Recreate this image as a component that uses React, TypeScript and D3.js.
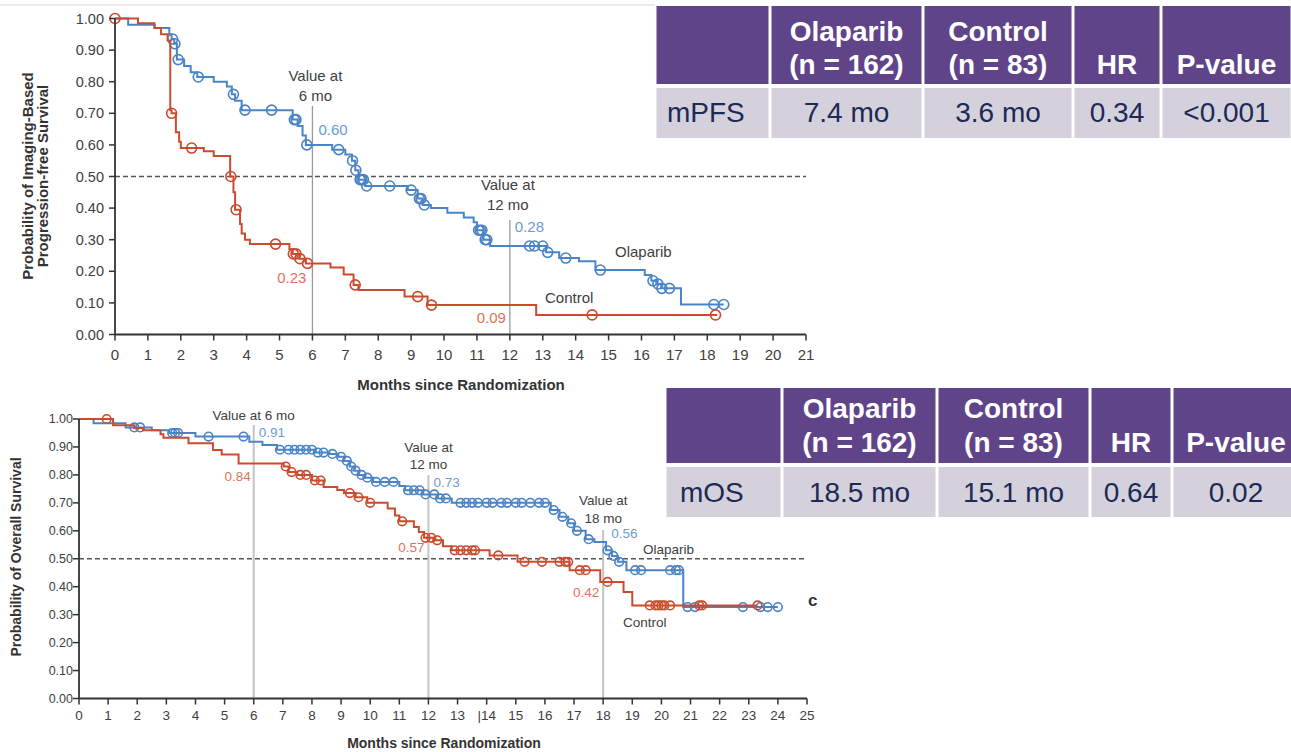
import React from "react";
import * as d3 from "d3";

// ---------------- DATA ----------------
const pfsXTicks = [0, 1, 2, 3, 4, 5, 6, 7, 8, 9, 10, 11, 12, 13, 14, 15, 16, 17, 18, 19, 20, 21];
const pfsXTickLabels = ["0", "1", "2", "3", "4", "5", "6", "7", "8", "9", "10", "11", "12", "13", "14", "15", "16", "17", "18", "19", "20", "21"];
const yTicks = [0, 0.1, 0.2, 0.3, 0.4, 0.5, 0.6, 0.7, 0.8, 0.9, 1.0];
const yTickLabels = ["0.00", "0.10", "0.20", "0.30", "0.40", "0.50", "0.60", "0.70", "0.80", "0.90", "1.00"];
const osXTicks = [0, 1, 2, 3, 4, 5, 6, 7, 8, 9, 10, 11, 12, 13, 14, 15, 16, 17, 18, 19, 20, 21, 22, 23, 24, 25];
const osXTickLabels = ["0", "1", "2", "3", "4", "5", "6", "7", "8", "9", "10", "11", "12", "13", "|14", "15", "16", "17", "18", "19", "20", "21", "22", "23", "24", "25"];

// Imaging-based PFS, Olaparib: [month, survival after step]
const pfsOlaparibSteps: [number, number][] = [
  [0, 1], [0.4, 0.98], [1.2, 0.97], [1.65, 0.95], [1.72, 0.935], [1.8, 0.92], [1.88, 0.87], [2.1, 0.85],
  [2.3, 0.83], [2.5, 0.815], [3.0, 0.8], [3.4, 0.785], [3.55, 0.76], [3.65, 0.74], [3.85, 0.71],
  [5.4, 0.68], [5.55, 0.66], [5.7, 0.63], [5.8, 0.6], [6.6, 0.585], [7.0, 0.57], [7.2, 0.55],
  [7.3, 0.52], [7.4, 0.49], [7.6, 0.47], [8.9, 0.457], [9.2, 0.43], [9.35, 0.41], [9.6, 0.4],
  [10.1, 0.385], [10.6, 0.37], [10.9, 0.355], [11.0, 0.33], [11.2, 0.3], [11.4, 0.28], [13.1, 0.26],
  [13.5, 0.242], [14.1, 0.232], [14.6, 0.204], [16.1, 0.188], [16.3, 0.17], [16.45, 0.16], [16.6, 0.146],
  [17.2, 0.095],
];
const pfsOlaparibCensor = [1.75, 1.82, 1.92, 2.53, 3.6, 3.95, 4.76, 5.45, 5.5, 5.83, 6.8, 7.22, 7.32, 7.45, 7.5, 7.55, 7.65, 8.35, 9.0, 9.25, 9.3, 9.4, 11.05, 11.1, 11.15, 11.25, 11.3, 12.6, 12.75, 13.0, 13.15, 13.7, 14.75, 16.35, 16.5, 16.62, 16.85, 18.2, 18.5];
const pfsOlaparibEnd = 18.5;

const pfsControlSteps: [number, number][] = [
  [0, 1], [0.7, 0.985], [1.2, 0.97], [1.4, 0.95], [1.6, 0.93], [1.68, 0.71], [1.72, 0.7], [1.85, 0.64],
  [1.95, 0.61], [2.0, 0.59], [2.7, 0.58], [3.0, 0.565], [3.5, 0.5], [3.6, 0.45], [3.65, 0.395],
  [3.8, 0.35], [3.85, 0.32], [3.95, 0.3], [4.1, 0.286], [5.3, 0.27], [5.4, 0.255], [5.6, 0.24],
  [5.8, 0.225], [6.55, 0.212], [6.95, 0.19], [7.25, 0.157], [7.4, 0.141], [8.8, 0.12], [9.5, 0.093],
  [12.8, 0.062],
];
const pfsControlCensor = [0, 1.72, 2.33, 3.52, 3.68, 4.88, 5.42, 5.5, 5.62, 5.85, 7.3, 9.2, 9.62, 14.5, 18.25];
const pfsControlEnd = 18.3;

// Overall survival
const osOlaparibSteps: [number, number][] = [
  [0, 1], [0.5, 0.985], [1.6, 0.97], [2.5, 0.96], [3.1, 0.95], [4.0, 0.937], [5.85, 0.919], [6.3, 0.907],
  [6.8, 0.89], [8.1, 0.88], [8.6, 0.875], [8.9, 0.865], [9.1, 0.85], [9.3, 0.83], [9.45, 0.815],
  [9.6, 0.8], [9.8, 0.79], [10.1, 0.775], [11.0, 0.76], [11.2, 0.745], [11.8, 0.73], [12.3, 0.716],
  [12.8, 0.7], [16.2, 0.674], [16.5, 0.65], [16.8, 0.627], [17.0, 0.6], [17.4, 0.57], [17.7, 0.56],
  [18.1, 0.53], [18.3, 0.51], [18.5, 0.489], [18.8, 0.459], [20.75, 0.327],
];
const osOlaparibCensor = [1.9, 2.1, 3.2, 3.3, 3.4, 4.45, 5.65, 6.9, 7.2, 7.4, 7.6, 7.8, 8.0, 8.2, 8.4, 8.7, 9.0, 9.2, 9.35, 9.5, 9.7, 9.9, 10.2, 10.5, 10.8, 11.3, 11.5, 11.7, 11.9, 12.2, 12.4, 12.6, 13.1, 13.3, 13.5, 13.7, 14.0, 14.2, 14.5, 14.7, 15.0, 15.2, 15.5, 15.8, 16.0, 16.3, 16.6, 16.9, 17.1, 17.5, 18.15, 18.35, 18.55, 19.1, 19.3, 20.3, 20.5, 20.6, 20.9, 21.15, 22.8, 23.4, 23.65, 24.0];
const osOlaparibEnd = 24.0;

const osControlSteps: [number, number][] = [
  [0, 1], [1.17, 0.978], [1.9, 0.968], [2.2, 0.96], [2.8, 0.945], [2.9, 0.933], [3.76, 0.913], [4.6, 0.889],
  [4.9, 0.873], [5.48, 0.841], [7.03, 0.83], [7.2, 0.81], [7.5, 0.8], [8.0, 0.78], [8.4, 0.757],
  [8.87, 0.746], [9.1, 0.735], [9.5, 0.72], [9.9, 0.7], [10.6, 0.68], [10.85, 0.655], [11.0, 0.634],
  [11.5, 0.614], [11.67, 0.596], [11.85, 0.575], [12.2, 0.566], [12.5, 0.545], [12.8, 0.53], [14.1, 0.512],
  [15.06, 0.489], [16.85, 0.459], [17.9, 0.417], [18.7, 0.381], [19.0, 0.333],
];
const osControlCensor = [0.95, 7.1, 7.3, 7.6, 7.8, 8.1, 8.3, 9.3, 9.6, 10.0, 11.1, 11.9, 12.1, 12.3, 12.9, 13.1, 13.3, 13.5, 13.6, 14.4, 15.3, 15.9, 16.5, 16.7, 16.8, 17.2, 17.4, 18.15, 19.6, 19.8, 19.9, 20.0, 20.1, 20.3, 21.3, 21.4, 23.3];
const osControlEnd = 23.3;

// Landmark values
const pfsLandmarkMonths = [6, 12];
const pfsOlaparibLandmark = ["0.60", "0.28"];
const pfsControlLandmark = ["0.23", "0.09"];
const osLandmarkMonths = [6, 12, 18];
const osOlaparibLandmark = ["0.91", "0.73", "0.56"];
const osControlLandmark = ["0.84", "0.57", "0.42"];

// Tables
const tableHeaderTop = ["", "Olaparib", "Control", "", ""];
const tableHeaderBottom = ["", "(n = 162)", "(n = 83)", "HR", "P-value"];
const pfsRow = ["mPFS", "7.4 mo", "3.6 mo", "0.34", "<0.001"];
const osRow = ["mOS", "18.5 mo", "15.1 mo", "0.64", "0.02"];

// ---------------- STYLE ----------------
const BLUE = "#4a84c6";
const RED = "#cc4b2e";
const BLUE_LBL = "#6a9bd6";
const RED_LBL = "#e0725c";
const INK = "#404040";
const FONT = "'Liberation Sans', Arial, sans-serif";
const PURPLE = "#60448a";
const CELL = "#d4d1dd";
const NAVY = "#1d2a55";

type Steps = [number, number][];

function survAt(steps: Steps, t: number) {
  let v = steps[0][1];
  for (const [st, sv] of steps) if (st <= t + 1e-9) v = sv;
  return v;
}

function Curve({ steps, censor, end, color, x, y, r, w }: any) {
  const pts: Steps = [...steps, [end, steps[steps.length - 1][1]]];
  const line = d3
    .line<[number, number]>()
    .x((d) => x(d[0]))
    .y((d) => y(d[1]))
    .curve(d3.curveStepAfter);
  return (
    <g>
      <path d={line(pts) || ""} fill="none" stroke={color} strokeWidth={w} />
      {censor.map((t: number, i: number) => (
        <circle key={i} cx={x(t)} cy={y(survAt(steps, t))} r={r} fill="none" stroke={color} strokeWidth={1.6} />
      ))}
    </g>
  );
}

function Axes({ x, y, xTicks, xLabels, xMax, tickFont, yFont, yLabelX, xLabelY }: any) {
  const x0 = x(0);
  const y0 = y(0);
  return (
    <g fontFamily={FONT} fill={INK}>
      <line x1={x0} x2={x0} y1={y(1)} y2={y0} stroke="#333" strokeWidth={1.8} />
      <line x1={x0} x2={x(xMax)} y1={y0} y2={y0} stroke="#333" strokeWidth={1.8} />
      {yTicks.map((v, i) => (
        <g key={"y" + i}>
          <line x1={x0 - 6} x2={x0} y1={y(v)} y2={y(v)} stroke="#333" strokeWidth={1.5} />
          <text x={yLabelX} y={y(v)} dy="0.35em" textAnchor="end" fontSize={yFont}>
            {yTickLabels[i]}
          </text>
        </g>
      ))}
      {xTicks.map((v: number, i: number) => (
        <g key={"x" + i}>
          <line x1={x(v)} x2={x(v)} y1={y0} y2={y0 + 6} stroke="#333" strokeWidth={1.5} />
          <text x={x(v)} y={xLabelY} textAnchor="middle" fontSize={tickFont}>
            {xLabels[i]}
          </text>
        </g>
      ))}
    </g>
  );
}

function Table({ cols, yHead, yBody, row, headBase, bodyBase, firstPad }: any) {
  return (
    <g fontFamily={FONT}>
      {cols.slice(0, -1).map((c0: number, i: number) => {
        const c1 = cols[i + 1];
        const cx = (c0 + c1) / 2;
        return (
          <g key={i}>
            <rect x={c0 + 1.5} y={yHead[0]} width={c1 - c0 - 3} height={yHead[1] - yHead[0]} fill={PURPLE} />
            <rect x={c0 + 1.5} y={yBody[0]} width={c1 - c0 - 3} height={yBody[1] - yBody[0]} fill={CELL} />
            <text x={cx} y={headBase[0]} textAnchor="middle" fill="#fff" fontWeight="bold" fontSize={28}>
              {tableHeaderTop[i]}
            </text>
            <text x={cx} y={headBase[1]} textAnchor="middle" fill="#fff" fontWeight="bold" fontSize={28}>
              {tableHeaderBottom[i]}
            </text>
            <text
              x={i === 0 ? c0 + firstPad : cx}
              y={bodyBase}
              textAnchor={i === 0 ? "start" : "middle"}
              fill={NAVY}
              fontSize={28}
            >
              {row[i]}
            </text>
          </g>
        );
      })}
    </g>
  );
}

export default function App() {
  const pfsX = d3.scaleLinear().domain([0, 21]).range([115, 806]);
  const pfsY = d3.scaleLinear().domain([0, 1]).range([334.5, 18.5]);
  const osX = d3.scaleLinear().domain([0, 25]).range([79, 807]);
  const osY = d3.scaleLinear().domain([0, 1]).range([698.5, 419]);

  const pfsLandTop = [106, 220];
  const osLandTop = [425, 475, 530];

  return (
    <svg
      width={1291}
      height={752}
      style={{ position: "absolute", left: 0, top: 0, background: "#fff" }}
      fontFamily={FONT}
    >
      <rect x={0} y={0} width={1291} height={752} fill="#fff" />
      <line x1={0} x2={655} y1={5} y2={5} stroke="#ececec" strokeWidth={2} />

      {/* ---------- Top: PFS ---------- */}
      <line x1={pfsX(0)} x2={pfsX(21)} y1={pfsY(0.5)} y2={pfsY(0.5)} stroke="#555" strokeWidth={1.3} strokeDasharray="5,3" />
      {pfsLandmarkMonths.map((m, i) => (
        <line key={i} x1={pfsX(m)} x2={pfsX(m)} y1={pfsLandTop[i]} y2={pfsY(0)} stroke="#9a9a9a" strokeWidth={1.3} />
      ))}
      <Curve steps={pfsOlaparibSteps} censor={pfsOlaparibCensor} end={pfsOlaparibEnd} color={BLUE} x={pfsX} y={pfsY} r={5} w={2} />
      <Curve steps={pfsControlSteps} censor={pfsControlCensor} end={pfsControlEnd} color={RED} x={pfsX} y={pfsY} r={5} w={2} />
      <Axes x={pfsX} y={pfsY} xTicks={pfsXTicks} xLabels={pfsXTickLabels} xMax={21} tickFont={15} yFont={14.5} yLabelX={104} xLabelY={360} />

      <g fontSize={15} fill={INK}>
        <text x={pfsX(6) + 3} y={81} textAnchor="middle">Value at</text>
        <text x={pfsX(6) + 3} y={101} textAnchor="middle">6 mo</text>
        <text x={pfsX(12) - 2} y={190} textAnchor="middle">Value at</text>
        <text x={pfsX(12) - 2} y={210} textAnchor="middle">12 mo</text>
        <text x={pfsX(6) + 6} y={135} fill={BLUE_LBL}>{pfsOlaparibLandmark[0]}</text>
        <text x={pfsX(6) - 6} y={283} textAnchor="end" fill={RED_LBL}>{pfsControlLandmark[0]}</text>
        <text x={pfsX(12) + 5} y={232} fill={BLUE_LBL}>{pfsOlaparibLandmark[1]}</text>
        <text x={pfsX(12) - 4} y={323} textAnchor="end" fill={RED_LBL}>{pfsControlLandmark[1]}</text>
        <text x={615} y={257}>Olaparib</text>
        <text x={545} y={303}>Control</text>
      </g>
      <text x={461} y={390} textAnchor="middle" fontWeight="bold" fontSize={15} fill="#333">
        Months since Randomization
      </text>
      <text transform="translate(33,176) rotate(-90)" textAnchor="middle" fontWeight="bold" fontSize={15} fill="#333">
        Probability of Imaging-Based
      </text>
      <text transform="translate(48,176) rotate(-90)" textAnchor="middle" fontWeight="bold" fontSize={15} fill="#333">
        Progression-free Survival
      </text>

      {/* ---------- Bottom: OS ---------- */}
      <line x1={osX(0)} x2={osX(25)} y1={osY(0.5)} y2={osY(0.5)} stroke="#555" strokeWidth={1.3} strokeDasharray="5,3" />
      {osLandmarkMonths.map((m, i) => (
        <line key={i} x1={osX(m)} x2={osX(m)} y1={osLandTop[i]} y2={osY(0)} stroke="#c4c4c4" strokeWidth={2} />
      ))}
      <Curve steps={osOlaparibSteps} censor={osOlaparibCensor} end={osOlaparibEnd} color={BLUE} x={osX} y={osY} r={4.3} w={2} />
      <Curve steps={osControlSteps} censor={osControlCensor} end={osControlEnd} color={RED} x={osX} y={osY} r={4.3} w={2} />
      <Axes x={osX} y={osY} xTicks={osXTicks} xLabels={osXTickLabels} xMax={25} tickFont={13.5} yFont={12.5} yLabelX={73} xLabelY={720} />

      <g fontSize={13.5} fill={INK}>
        <text x={osX(6)} y={420} textAnchor="middle">Value at 6 mo</text>
        <text x={osX(12)} y={452} textAnchor="middle">Value at</text>
        <text x={osX(12)} y={469} textAnchor="middle">12 mo</text>
        <text x={osX(18)} y={505} textAnchor="middle">Value at</text>
        <text x={osX(18)} y={523} textAnchor="middle">18 mo</text>
        <text x={osX(6) + 5} y={437} fill={BLUE_LBL}>{osOlaparibLandmark[0]}</text>
        <text x={osX(6) - 3} y={481} textAnchor="end" fill={RED_LBL}>{osControlLandmark[0]}</text>
        <text x={osX(12) + 5} y={487} fill={BLUE_LBL}>{osOlaparibLandmark[1]}</text>
        <text x={osX(12) - 4} y={552} textAnchor="end" fill={RED_LBL}>{osControlLandmark[1]}</text>
        <text x={osX(18) + 8} y={538} fill={BLUE_LBL}>{osOlaparibLandmark[2]}</text>
        <text x={osX(18) - 4} y={597} textAnchor="end" fill={RED_LBL}>{osControlLandmark[2]}</text>
        <text x={643} y={554}>Olaparib</text>
        <text x={623} y={627}>Control</text>
      </g>
      <text x={444} y={748} textAnchor="middle" fontWeight="bold" fontSize={14} fill="#333">
        Months since Randomization
      </text>
      <text transform="translate(21,557) rotate(-90)" textAnchor="middle" fontWeight="bold" fontSize={14} fill="#333">
        Probability of Overall Survival
      </text>
      <text x={808} y={606} fontWeight="bold" fontSize={17} fill="#333">c</text>

      {/* ---------- Tables ---------- */}
      <Table cols={[655, 770, 923, 1073, 1161, 1292]} yHead={[6, 84]} yBody={[88, 138]} row={pfsRow} headBase={[41, 74]} bodyBase={122} firstPad={12} />
      <Table cols={[665, 782, 937, 1090, 1172, 1300]} yHead={[388, 463]} yBody={[467, 517]} row={osRow} headBase={[418, 452]} bodyBase={502} firstPad={15} />
    </svg>
  );
}
